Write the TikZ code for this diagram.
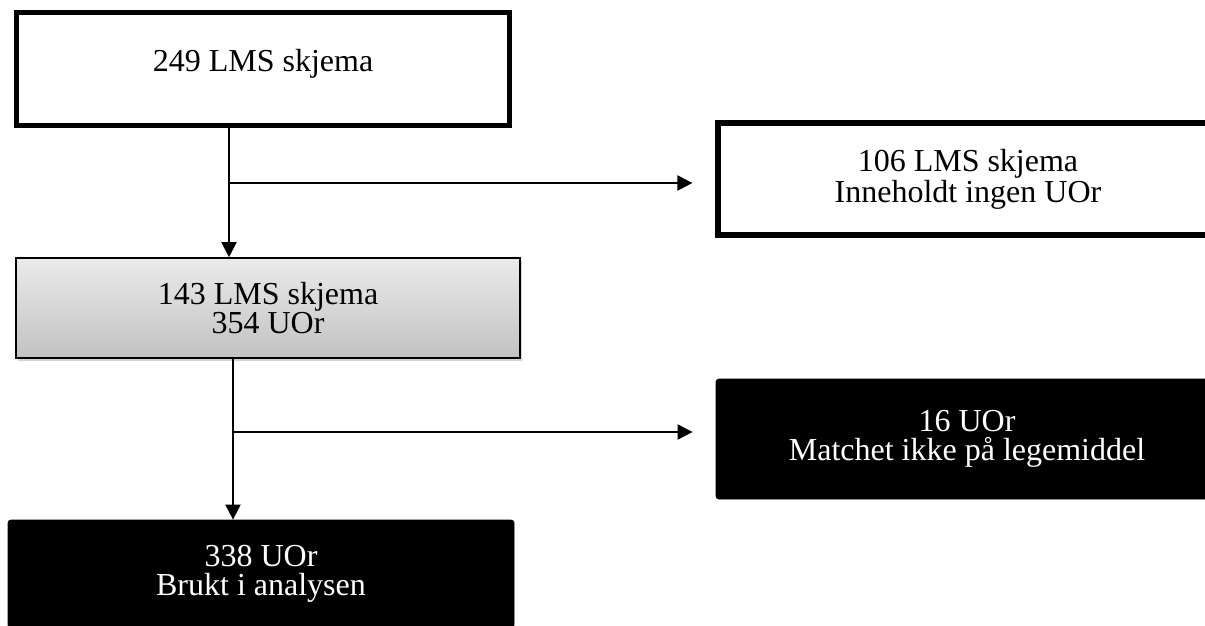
\documentclass[tikz,border=0pt]{standalone}
\usepackage{fontspec}
\setmainfont{Liberation Serif}
\usetikzlibrary{arrows.meta, positioning, shadows}

\begin{document}
\begin{tikzpicture}[x=0.5pt, y=-0.5pt, font=\fontsize{16}{14.5}\selectfont]
\tikzstyle{block} = [rectangle, draw, align=center, text centered, inner sep=0pt]
\tikzstyle{open} = [block, fill=white, line width=2.6pt]
\tikzstyle{shade} = [block, line width=0.8pt, top color=black!8, bottom color=black!24,
    drop shadow={opacity=0.35, shadow xshift=1pt, shadow yshift=-1.5pt}]
\tikzstyle{dark} = [block, fill=black, text=white, rounded corners=1.5pt]
\tikzstyle{line} = [draw, line width=1pt, -{Triangle[length=7.5pt, width=7.5pt]}]

    \clip (0,0) rectangle (1205,626);

    % boxes
    \node [open, minimum width=246.5pt, minimum height=56.5pt, text depth=8.5pt] (total) at (263,69) {249 LMS skjema};
    \node [open, minimum width=250pt, minimum height=56pt] (noevent) at (968,179) {106 LMS skjema\\Inneholdt ingen UOr};
    \node [shade, minimum width=252pt, minimum height=50pt] (subset) at (268,308) {143 LMS skjema\\354 UOr};
    \node [dark, minimum width=251pt, minimum height=60pt] (nomatch) at (967,439) {16 UOr\\Matchet ikke på legemiddel};
    \node [dark, minimum width=253pt, minimum height=54pt] (used) at (261,574) {338 UOr\\Brukt i analysen};

    % split points
    \coordinate (fork1) at (229,183);
    \coordinate (fork2) at (233,432);

    % arrows
    \path [line] (fork1 |- total.south) -- (fork1 |- subset.north);
    \path [line, shorten >=11.5pt] (fork1) -- (fork1 -| noevent.west);
    \path [line] (fork2 |- subset.south) -- (fork2 |- used.north);
    \path [line, shorten >=11.5pt] (fork2) -- (fork2 -| nomatch.west);

\end{tikzpicture}
\end{document}
